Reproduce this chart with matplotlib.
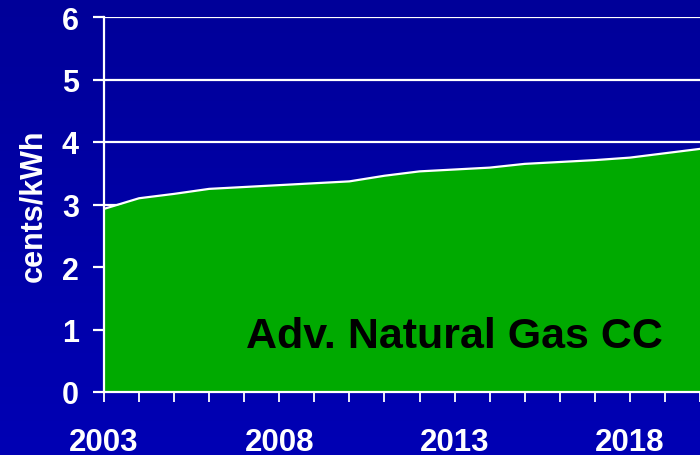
import numpy as np
import matplotlib
matplotlib.use('Agg')
import matplotlib.pyplot as plt
from matplotlib.colors import LinearSegmentedColormap

years = [2003, 2004, 2005, 2006, 2007, 2008, 2009, 2010, 2011, 2012,
         2013, 2014, 2015, 2016, 2017, 2018, 2019, 2020]
cost = [2.93, 3.10, 3.17, 3.25, 3.28, 3.31, 3.34, 3.37, 3.46, 3.53,
        3.56, 3.59, 3.65, 3.68, 3.71, 3.75, 3.82, 3.89]
label_years = [2003, 2008, 2013, 2018]
y_ticks = [0, 1, 2, 3, 4, 5, 6]
series_name = 'Adv. Natural Gas CC'

plt.rcParams['font.family'] = ['Liberation Sans', 'DejaVu Sans']
plt.rcParams['font.weight'] = 'bold'

fig = plt.figure(figsize=(7, 4.56), dpi=100)

# blue gradient background
bg = fig.add_axes([0, 0, 1, 1], zorder=-10)
cmap = LinearSegmentedColormap.from_list('bg', ['#000099', '#0000b4'])
bg.imshow(np.linspace(0, 1, 256).reshape(-1, 1), aspect='auto', cmap=cmap,
          extent=[0, 1, 0, 1], origin='upper')
bg.axis('off')

ax = fig.add_axes([104 / 700, 63 / 456, 596 / 700, 375 / 456])
ax.set_facecolor('none')

ax.fill_between(years, cost, 0, color='#00aa00', zorder=2, linewidth=0)
ax.plot(years, cost, color='white', linewidth=1.6, zorder=3)

ax.set_xlim(2003, 2003 + 596 / 35.2)
ax.set_ylim(0, 6)
ax.set_yticks(y_ticks)
ax.set_xticks(years)
ax.set_xticklabels([str(y) if y in label_years else '' for y in years])

ax.grid(axis='y', color='white', linewidth=1.6, zorder=1)
ax.set_axisbelow(True)

for side in ['top', 'right']:
    ax.spines[side].set_visible(False)
for side in ['left', 'bottom']:
    ax.spines[side].set_color('white')
    ax.spines[side].set_linewidth(1.6)
    ax.spines[side].set_zorder(4)

ax.tick_params(axis='y', colors='white', length=8, width=1.6, pad=10,
               labelsize=22)
ax.tick_params(axis='x', colors='white', length=7, width=1.3, pad=18,
               labelsize=22.5)

ax.set_ylabel('cents/kWh', color='white', fontsize=22, fontweight='bold',
              labelpad=10)

ax.text(2013.0, 0.9, series_name, fontsize=31, fontweight='bold',
        color='black', ha='center', va='center', zorder=5)

fig.savefig('out.png', dpi=100)
